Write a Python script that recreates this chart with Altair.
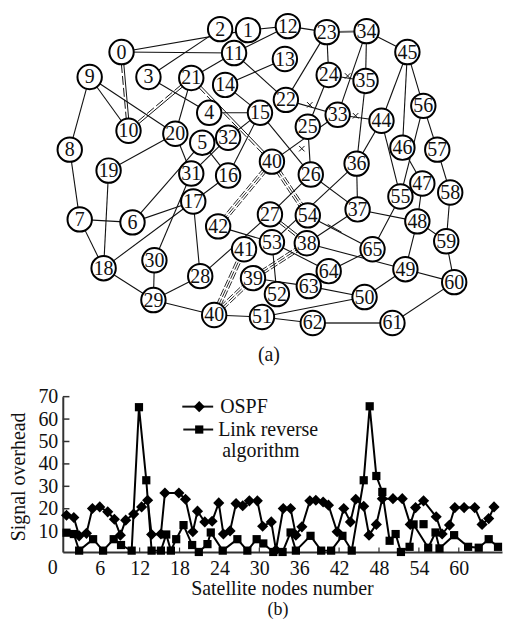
import altair as alt
import pandas as pd
import math

FONT = "Liberation Serif"
INK = "#111111"

node_keys = ["0","1","2","3","4","5","6","7","8","9","10","11","12","13","14","15","16","17","18","19","20",
             "21","22","23","24","25","26","27","28","29","30","31","32","33","34","35","36","37","38","39",
             "40","40m","41","42","44","45","46","47","48","49","50","51","52","53","54","55","56","57","58",
             "59","60","61","62","63","64","65"]
node_x = [121,248,220,148,209,202,132,79,69,89,128,234,288,285,225,260,228,193,103,108,175,
          191,286,327,329,308,311,270,200,153,154,191,228,338,367,366,357,358,307,253,
          214,272,244,218,382,408,403,423,418,406,365,262,277,272,308,401,424,438,451,
          447,455,393,313,309,329,373]
node_y = [49,27,26,74,110,140,220,217,147,74,128,50,23,56,82,110,173,199,266,168,131,
          75,97,29,72,124,172,212,274,298,258,171,135,112,28,78,161,207,241,276,
          313,159,247,224,118,49,145,181,219,267,295,315,292,240,213,194,103,147,190,
          239,280,321,321,284,269,247]

edges_single = [("0","1"),("0","11"),("2","3"),("1","12"),("11","12"),("11","21"),("13","14"),("14","15"),
    ("11","22"),("15","26"),("4","15"),("15","32"),("15","16"),("21","20"),("20","31"),("5","16"),("32","31"),
    ("5","6"),("3","4"),("12","23"),("22","23"),("22","33"),("33","34"),("33","40m"),("33","44"),("44","36"),
    ("44","55"),("45","44"),("45","46"),("45","56"),("34","45"),("34","35"),("23","24"),("56","57"),("56","55"),
    ("46","47"),("57","58"),("35","36"),("24","35"),("25","24"),("25","26"),("36","37"),("26","37"),("26","27"),
    ("36","53"),("37","38"),("54","65"),("38","49"),("53","64"),("65","64"),("65","55"),("37","48"),("48","47"),
    ("48","59"),("48","49"),("58","59"),("59","60"),("49","60"),("49","50"),("50","51"),("50","63"),("63","39"),
    ("51","62"),("61","60"),("53","52"),("42","53"),("28","27"),("28","17"),("28","29"),("29","30"),("29","18"),
    ("29","40"),("30","31"),("18","19"),("18","17"),("18","7"),("7","8"),("7","6"),("6","17"),("17","16"),
    ("8","9"),("9","10"),("9","20"),("19","20"),("40","51")]
edges_gray = [("23","34"),("62","61")]
edges_double = [("0","10"),("21","10"),("21","40m"),("27","38")]
edges_triple = [("40m","42"),("40","41"),("40","39"),("39","38"),("40m","54")]
cross_x = [348,310,356,302]
cross_y = [73,102,113,146]

diamond_x = [1.0,2.1,2.9,4.0,4.9,6.0,7.2,8.2,9.1,9.9,11.1,12.3,13.2,13.8,15.2,15.8,17.9,18.9,20.0,20.7,21.8,22.9,23.9,24.6,
             25.6,26.5,27.5,28.5,29.7,30.5,31.8,32.5,33.6,34.7,35.5,36.4,37.6,38.5,39.6,40.4,41.7,42.7,43.7,44.5,45.7,
             46.5,47.6,48.5,50.1,51.5,52.7,53.5,54.7,56.6,57.5,58.6,59.4,60.8,62.4,63.5,64.5,65.3]
diamond_y = [17.1,16.1,7.9,9.0,20.1,20.8,18.6,15.3,8.2,14.9,17.6,20.8,23.8,8.5,8.7,27.0,27.0,24.2,9.7,18.9,14.1,14.4,22.6,8.7,
             10.1,22.3,21.3,23.5,23.5,12.2,14.1,1.6,20.1,20.1,8.2,11.9,23.5,23.8,23.0,21.6,9.7,20.1,14.1,24.2,21.1,
             8.2,13.0,24.5,24.5,24.5,13.0,20.5,23.5,16.4,8.7,12.7,20.5,20.5,20.5,13.0,15.6,20.8]
square_x = [1.0,2.1,2.9,5.0,6.5,8.1,9.2,10.8,11.9,13.0,13.8,15.2,16.0,16.7,17.5,18.6,19.9,20.9,22.2,22.7,24.5,26.7,28.2,29.6,
            30.6,32.1,33.5,34.7,35.5,37.7,39.3,40.8,42.5,43.9,45.7,46.6,47.6,48.5,49.6,50.5,51.3,52.6,53.2,55.4,56.5,
            57.1,59.3,61.4,63.0,64.5,65.9]
square_y = [9.3,8.7,1.3,6.4,1.3,6.4,3.8,1.3,65.3,32.7,1.3,1.3,8.5,1.3,6.4,12.7,3.8,0.7,4.2,9.4,1.3,6.4,1.3,6.4,
            4.5,0.7,0.7,9.4,1.3,7.9,1.3,1.3,7.9,1.3,32.7,65.7,34.6,27.5,5.7,8.7,0.7,3.0,13.0,2.6,9.4,
            2.3,8.2,3.0,2.6,6.4,3.0]
detached_x = [54.7]
detached_y = [13.1]
x_ticks = [6,12,18,24,30,36,42,48,54,60]
y_ticks = [10,20,30,40,50,60,70]

pos = {k: (x, y) for k, x, y in zip(node_keys, node_x, node_y)}

def segs(pairs, offsets):
    rows = []
    for a, b in pairs:
        xa, ya = pos[a]; xb, yb = pos[b]
        L = math.hypot(xb-xa, yb-ya)
        nx, ny = -(yb-ya)/L, (xb-xa)/L
        for o in offsets:
            rows.append(dict(x=xa+nx*o, y=ya+ny*o, x2=xb+nx*o, y2=yb+ny*o))
    return pd.DataFrame(rows)

G_W, G_H = 441, 372
gx = alt.X("x:Q", scale=alt.Scale(domain=[62, 503], nice=False, zero=False), axis=None)
gy = alt.Y("y:Q", scale=alt.Scale(domain=[380, 8], nice=False, zero=False), axis=None)

def rule(df, **kw):
    return alt.Chart(df).mark_rule(**kw).encode(x=gx, y=gy, x2="x2:Q", y2="y2:Q")

nodes = pd.DataFrame(dict(x=node_x, y=node_y, label=[k.replace("m", "") for k in node_keys]))
layers = [
    rule(segs(edges_single, [0]), color=INK, strokeWidth=1.1),
    rule(segs(edges_gray, [0]), color="#666666", strokeWidth=2),
    rule(segs(edges_double, [-1.2]), color=INK, strokeWidth=1),
    rule(segs(edges_double, [1.2]), color=INK, strokeWidth=1, strokeDash=[9, 3]),
    rule(segs(edges_triple, [0, -2.2, 2.2]), color=INK, strokeWidth=0.9, strokeDash=[8, 2]),
    rule(pd.DataFrame(dict(x=[328], y=[222], x2=[342], y2=[230])), color=INK, strokeWidth=1),
    alt.Chart(pd.DataFrame(dict(x=cross_x, y=cross_y))).mark_point(
        shape="M-1,-1L1,1M-1,1L1,-1", size=30, color=INK, strokeWidth=1, filled=False, opacity=1
    ).encode(x=gx, y=gy),
    alt.Chart(nodes).mark_point(shape="circle", size=600, filled=True, fill="white", stroke="black",
                                strokeWidth=2, opacity=1).encode(x=gx, y=gy),
    alt.Chart(nodes).mark_text(font=FONT, fontSize=20, color=INK, baseline="middle", align="center", dy=0.5).encode(
        x=gx, y=gy, text="label:N"),
    alt.Chart(pd.DataFrame(dict(x=[269], y=[353], t=["(a)"]))).mark_text(
        font=FONT, fontSize=20, color=INK, baseline="middle").encode(x=gx, y=gy, text="t:N"),
]
graph = alt.layer(*layers).properties(width=G_W, height=G_H)

# ---- line chart
X_DOM = [0.44, 66.5]
Y_DOM = [0.67, 70]
bx = alt.X("x:Q", scale=alt.Scale(domain=X_DOM, nice=False, zero=False),
           axis=alt.Axis(values=x_ticks, grid=False, tickSize=0, labelFont=FONT, labelFontSize=20, labelColor=INK,
                         labelPadding=7, domainColor="#333333", domainWidth=2, format="d",
                         title="Satellite nodes number", titleFont=FONT, titleFontSize=20, titleColor=INK,
                         titleFontWeight="normal", titlePadding=0, titleX=220))
by = alt.Y("y:Q", scale=alt.Scale(domain=Y_DOM, nice=False, zero=False),
           axis=alt.Axis(values=y_ticks, grid=False, tickSize=0, labelFont=FONT, labelFontSize=20, labelColor=INK,
                         labelPadding=5, domainColor="#333333", domainWidth=2, format="d",
                         title="Signal overhead", titleFont=FONT, titleFontSize=20, titleColor=INK,
                         titleFontWeight="normal", titlePadding=9, titleY=80))
df_d = pd.DataFrame(dict(x=diamond_x, y=diamond_y))
df_s = pd.DataFrame(dict(x=square_x, y=square_y))
df_e = pd.DataFrame(dict(x=detached_x, y=detached_y))
ytk = pd.DataFrame(dict(y=y_ticks, x=[X_DOM[0]]*len(y_ticks), x2=[X_DOM[0]+1.0]*len(y_ticks)))
xtk = pd.DataFrame(dict(x=x_ticks, y=[Y_DOM[0]]*len(x_ticks), y2=[Y_DOM[0]+2.0]*len(x_ticks)))

def lab(t, px, py, size=20, **kw):
    return alt.Chart(pd.DataFrame(dict(t=[t]))).mark_text(font=FONT, fontSize=size, color=INK, baseline="middle", **kw).encode(
        x=alt.value(px), y=alt.value(py), text="t:N")

def leg_line(px0, px1, py):
    return alt.Chart(pd.DataFrame(dict(a=[0]))).mark_rule(color=INK, strokeWidth=2).encode(
        x=alt.value(px0), x2=alt.value(px1), y=alt.value(py))

def leg_pt(shape, size, px, py):
    return alt.Chart(pd.DataFrame(dict(a=[0]))).mark_point(shape=shape, size=size, filled=True, color="black", opacity=1).encode(
        x=alt.value(px), y=alt.value(py))

chart_b = alt.layer(
    alt.Chart(ytk).mark_rule(color="#333333", strokeWidth=1.5).encode(x=bx, x2="x2:Q", y=by),
    alt.Chart(xtk).mark_rule(color="#333333", strokeWidth=1.2).encode(x=bx, y=by, y2="y2:Q"),
    alt.Chart(df_d).mark_line(color="black", strokeWidth=2).encode(x=bx, y=by, order=alt.Order("x:Q")),
    alt.Chart(df_s).mark_line(color="black", strokeWidth=2).encode(x=bx, y=by, order=alt.Order("x:Q")),
    alt.Chart(df_d).mark_point(shape="diamond", size=125, filled=True, color="black", opacity=1).encode(x=bx, y=by),
    alt.Chart(df_s).mark_point(shape="square", size=68, filled=True, color="black", opacity=1).encode(x=bx, y=by),
    alt.Chart(df_e).mark_point(shape="square", size=68, filled=True, color="black", opacity=1).encode(x=bx, y=by),
    leg_line(120, 151, 10), leg_pt("diamond", 125, 137, 10),
    leg_line(121, 151, 33), leg_pt("square", 68, 137, 33),
    lab("OSPF", 158, 10, align="left"),
    lab("Link reverse", 156, 33, align="left"),
    lab("algorithm", 160, 55, align="left"),
    lab("0", -10, 172, align="center"),
    lab("(b)", 216, 214, size=18, align="center"),
).properties(width=441, height=156)

chart = alt.vconcat(graph, chart_b, spacing=5).properties(
    padding={"left": 0, "top": 0, "right": 0, "bottom": 0}, background="white"
).configure_view(stroke=None)

chart.save("out.html", embed_options={"renderer": "svg", "actions": False})
